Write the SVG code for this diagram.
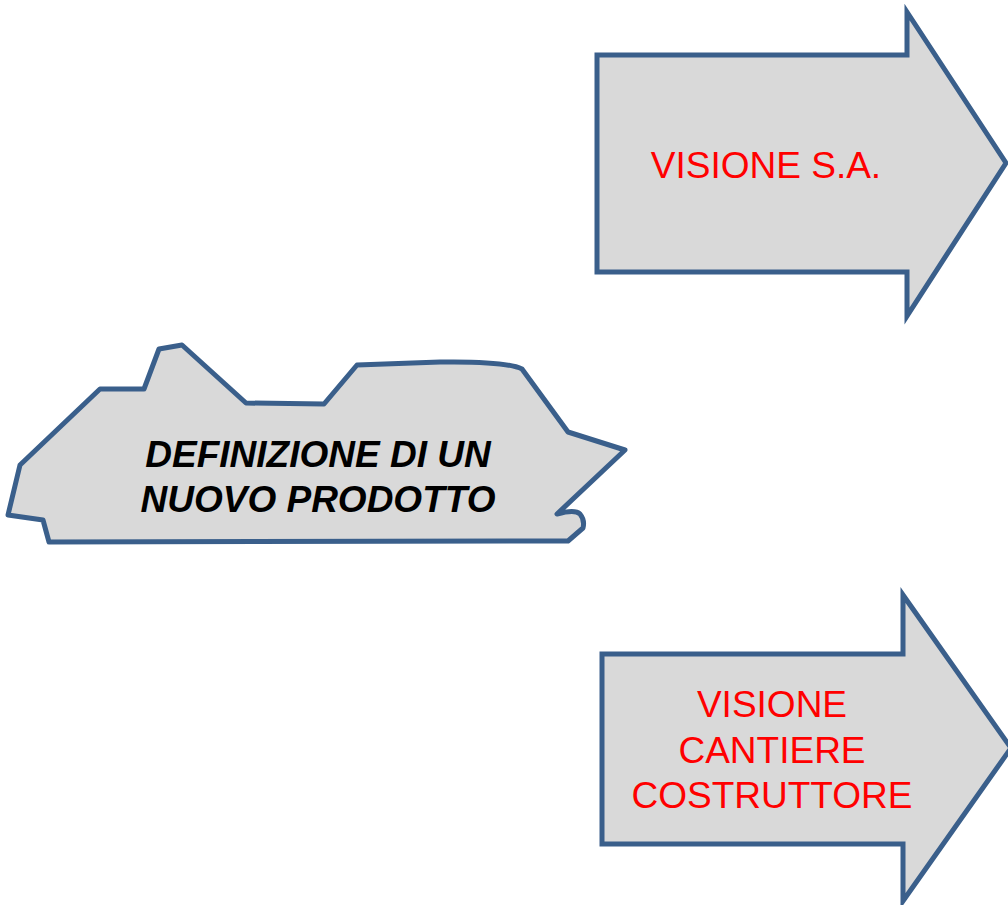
<svg xmlns="http://www.w3.org/2000/svg" width="1008" height="905" viewBox="0 0 1008 905">
<style>
.shape{fill:#D9D9D9;stroke:#3A5F8B;stroke-width:5;stroke-linejoin:miter}
.ship{fill:#D9D9D9;stroke:#3A5F8B;stroke-width:5;stroke-linejoin:round}
.red{font-family:"Liberation Sans",Arial,sans-serif;font-size:37px;fill:#FF0000;text-anchor:middle}
.bk{font-family:"Liberation Sans",Arial,sans-serif;font-size:37px;font-weight:bold;font-style:italic;fill:#000000;text-anchor:middle}
</style>
<rect width="1008" height="905" fill="#FFFFFF"/>
<g id="ship">
<path class="ship" d="M8,515 L20,465 L100,389 L144,389 L159,349 L182,345 L246,403 L324,404 L357,365 L440,362 Q505,361 522,369 L568,432 L625,450 L557,514 Q575,509 580,514 Q585,520 583,528 L568,541 L49,542 L43,520 Z"/>
<text class="bk" x="318" y="467">DEFINIZIONE DI UN</text>
<text class="bk" x="318" y="512">NUOVO PRODOTTO</text>
</g>
<g id="arrow-sa">
<path class="shape" d="M597,55 L907,55 L907,12 L1006,163 L907,316 L907,272 L597,272 Z"/>
<text class="red" x="766" y="178">VISIONE S.A.</text>
</g>
<g id="arrow-cantiere">
<path class="shape" d="M602,654 L903,654 L903,595 L1011,748 L903,901 L903,844 L602,844 Z"/>
<text class="red" x="772" y="717">VISIONE</text>
<text class="red" x="772" y="763">CANTIERE</text>
<text class="red" x="772" y="808">COSTRUTTORE</text>
</g>
<g id="connectors"/>
</svg>
